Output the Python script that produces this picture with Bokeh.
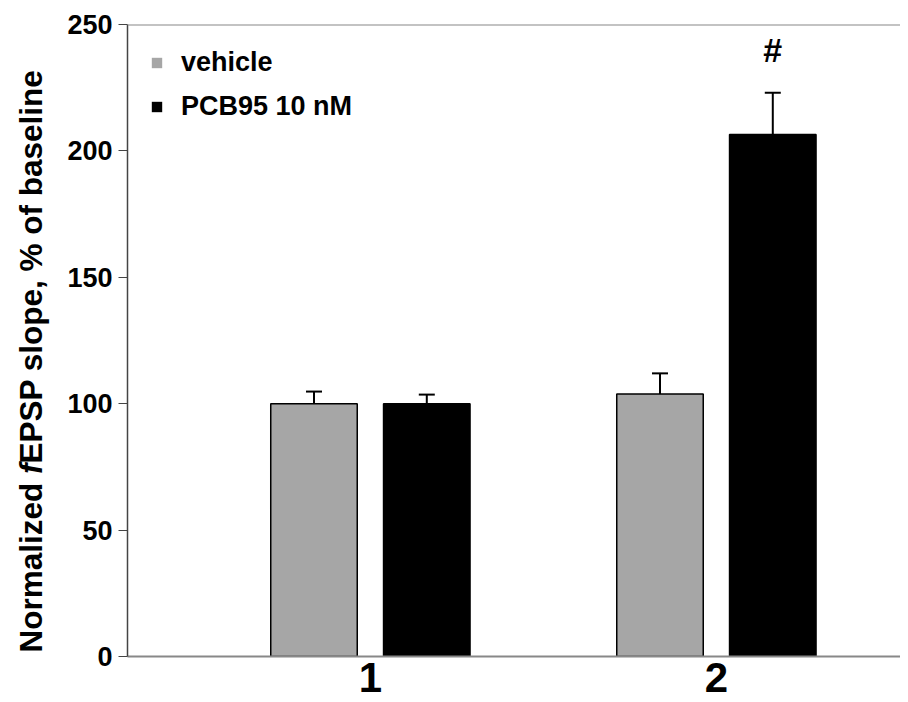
import math
from bokeh.plotting import figure
from bokeh.layouts import row
from bokeh.models import (ColumnDataSource, Whisker, TeeHead, FixedTicker, Span,
                          Label, Legend, LegendItem, Range1d)
from bokeh.embed import file_html
from bokeh.resources import INLINE

# ---- data ----
groups = ["1", "2"]
vehicle = [100.0, 103.8]
vehicle_err = [4.8, 8.2]
pcb95 = [100.0, 206.5]
pcb95_err = [3.6, 16.5]
series_labels = ["vehicle", "PCB95 10 nM"]
y_ticks = [0, 50, 100, 150, 200, 250]
marker_text = "#"
ylabel_parts = ["Normalized ", "f", "EPSP slope, % of baseline"]

FONT = "Liberation Sans"
GRAY = "#a6a6a6"
H = 700
TOP = 24
FH = 632
BOT = H - TOP - FH
LW = 60      # width of the strip holding the y-axis title
TOTAL_W = 900

xs = [i + 1 for i in range(len(groups))]
off = 0.163
bw = 0.25
frame_w = TOTAL_W - 127
x0 = 0.298

src_v = ColumnDataSource(dict(x=[x - off for x in xs], top=vehicle,
                              upper=[m + e for m, e in zip(vehicle, vehicle_err)]))
src_p = ColumnDataSource(dict(x=[x + off for x in xs], top=pcb95,
                              upper=[m + e for m, e in zip(pcb95, pcb95_err)]))

p = figure(width=TOTAL_W - LW, height=H, output_backend="svg", toolbar_location=None,
           x_range=Range1d(x0, x0 + frame_w / 346.0), y_range=Range1d(0, 250),
           min_border_left=127 - LW, min_border_top=TOP, min_border_bottom=BOT,
           min_border_right=0)

p.xgrid.visible = False
p.ygrid.visible = False
p.outline_line_color = None
p.background_fill_color = "white"

# error bars
for src in (src_v, src_p):
    w = Whisker(source=src, base="x", upper="upper", lower="top",
                upper_head=TeeHead(size=16, line_color="black", line_width=2),
                lower_head=None, line_color="black", line_width=2)
    p.add_layout(w)

rv = p.vbar(x="x", top="top", width=bw, source=src_v, fill_color=GRAY,
            line_color="black", line_width=1.5)
rp = p.vbar(x="x", top="top", width=bw, source=src_p, fill_color="black",
            line_color="black", line_width=1.5)

# legend proxies: zero-width bars without outline (only their legend swatch shows)
lv = p.vbar(x="x", top="top", width=0, source=src_v, fill_color=GRAY, line_color=None)
lp = p.vbar(x="x", top="top", width=0, source=src_p, fill_color="black", line_color=None)
legend = Legend(items=[LegendItem(label=series_labels[0], renderers=[lv]),
                       LegendItem(label=series_labels[1], renderers=[lp])],
                location="top_left", border_line_color=None,
                background_fill_alpha=0, glyph_width=13, glyph_height=13,
                label_standoff=18, spacing=13, padding=0, margin=23,
                label_text_font=FONT, label_text_font_style="bold",
                label_text_font_size="27px", label_text_color="black")
p.add_layout(legend)

# top border line
p.add_layout(Span(location=250, dimension="width", line_color="#888888", line_width=2))

# significance marker
p.add_layout(Label(x=xs[1] + off, y=240, text=marker_text, text_align="center",
                   text_baseline="alphabetic", text_font=FONT,
                   text_font_style="bold", text_font_size="34px", text_color="black"))

# y axis
p.yaxis.ticker = FixedTicker(ticks=y_ticks)
p.yaxis.minor_tick_line_color = None
p.yaxis.major_tick_in = 0
p.yaxis.major_tick_out = 9
p.yaxis.major_tick_line_color = "#444444"
p.yaxis.axis_line_color = "#444444"
p.yaxis.axis_line_width = 1.5
p.yaxis.major_label_text_font = FONT
p.yaxis.major_label_text_font_style = "bold"
p.yaxis.major_label_text_font_size = "27px"
p.yaxis.major_label_text_color = "black"
p.yaxis.major_label_standoff = 6

# x axis
p.xaxis.ticker = FixedTicker(ticks=xs)
p.xaxis.major_label_overrides = {x: g for x, g in zip(xs, groups)}
p.xaxis.minor_tick_line_color = None
p.xaxis.major_tick_line_color = None
p.xaxis.major_tick_in = 0
p.xaxis.major_tick_out = 0
p.xaxis.axis_line_color = "#888888"
p.xaxis.axis_line_width = 2
p.xaxis.major_label_text_font = FONT
p.xaxis.major_label_text_font_style = "bold"
p.xaxis.major_label_text_font_size = "42px"
p.xaxis.major_label_text_color = "black"
p.xaxis.major_label_standoff = 6

# ---- strip with the y-axis title (italic "f"); frame aligned with main frame,
# coordinates in pixels measured up from the frame bottom ----
t = figure(width=LW, height=H, output_backend="svg", toolbar_location=None,
           x_range=Range1d(0, LW), y_range=Range1d(0, FH),
           min_border_left=0, min_border_right=0, min_border_top=TOP,
           min_border_bottom=BOT)
t.axis.visible = False
t.grid.visible = False
t.outline_line_color = None

fs = 31.5
widths_em = [5.668, 0.333]
y0 = 4
y_pos = [y0, y0 + widths_em[0] * fs, y0 + (widths_em[0] + widths_em[1]) * fs]
styles = ["bold", "bold italic", "bold"]
for txt, yy, st in zip(ylabel_parts, y_pos, styles):
    t.add_layout(Label(x=30, y=yy, text=txt, angle=math.pi / 2,
                       text_align="left", text_baseline="middle",
                       text_font=FONT, text_font_style=st,
                       text_font_size=f"{fs}px", text_color="black"))

layout = row(t, p)
open("out.html", "w").write(file_html(layout, INLINE))
